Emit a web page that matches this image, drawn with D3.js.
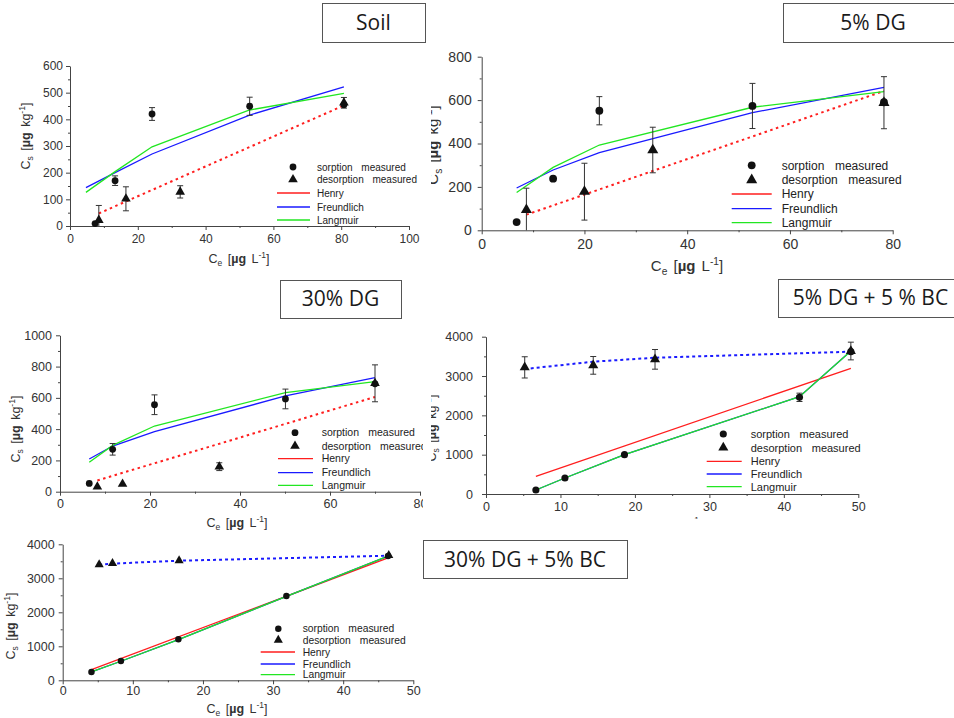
<!DOCTYPE html>
<html>
<head>
<meta charset="utf-8">
<script src="https://cdn.jsdelivr.net/npm/d3@7"></script>
<style>
  html, body { margin: 0; padding: 0; background: #fff; }
  svg { display: block; font-family: "Liberation Sans", Arial, sans-serif; }
  text { white-space: pre; }
</style>
</head>
<body>
<svg id="fig" width="954" height="718"></svg>
<script>
// ---------- Soil ----------
const soilSorpCe = [7.4, 13.3, 24.2, 53.0, 80.8];
const soilSorpCs = [9, 170, 420, 449, 455];
const soilSorpSd = [0, 18, 24, 34, 0];
const soilDesCe = [8.5, 16.5, 32.5, 80.8];
const soilDesCs = [22, 102, 128, 462];
const soilDesSd = [55, 45, 23, 20];
const soilFitCe = [4.7, 13.3, 24.2, 53.0, 80.8];
const soilFreundlich = [144, 200, 270, 416, 522];
const soilLangmuir = [126, 204, 297, 435, 497];
const soilHenryCe = [8.5, 80.8];
const soilHenry = [47, 452];
const soilXTicks = [0, 20, 40, 60, 80, 100];
const soilXMinor = [10, 30, 50, 70, 90];
const soilYTicks = [0, 100, 200, 300, 400, 500, 600];
const soilYMinor = [50, 150, 250, 350, 450, 550];

// ---------- 5% DG ----------
const dg5SorpCe = [6.8, 13.9, 22.9, 52.7, 78.3];
const dg5SorpCs = [38, 238, 551, 573, 590];
const dg5SorpSd = [0, 0, 65, 104, 0];
const dg5DesCe = [8.7, 20.0, 33.3, 78.3];
const dg5DesCs = [94, 178, 370, 588];
const dg5DesSd = [100, 131, 105, 120];
const dg5FitCe = [6.8, 13.9, 22.9, 52.7, 78.3];
const dg5Freundlich = [195, 278, 358, 542, 659];
const dg5Langmuir = [174, 290, 393, 567, 639];
const dg5HenryCe = [8.7, 78.3];
const dg5Henry = [72, 642];
const dg5XTicks = [0, 20, 40, 60, 80];
const dg5XMinor = [10, 30, 50, 70];
const dg5YTicks = [0, 200, 400, 600, 800];
const dg5YMinor = [100, 300, 500, 700];

// ---------- 30% DG ----------
const dg30SorpCe = [6.5, 11.7, 21.0, 50.1, 70.0];
const dg30SorpCs = [53, 271, 556, 593, 690];
const dg30SorpSd = [0, 37, 63, 63, 0];
const dg30DesCe = [8.3, 13.9, 35.4, 70.0];
const dg30DesCs = [32, 49, 160, 693];
const dg30DesSd = [0, 0, 25, 118];
const dg30FitCe = [6.5, 11.7, 21.0, 50.1, 70.0];
const dg30Freundlich = [209, 292, 384, 612, 729];
const dg30Langmuir = [188, 296, 420, 633, 704];
const dg30HenryCe = [8.3, 70.0];
const dg30Henry = [72, 606];
const dg30XTicks = [0, 20, 40, 60, 80];
const dg30XMinor = [10, 30, 50, 70];
const dg30YTicks = [0, 200, 400, 600, 800, 1000];
const dg30YMinor = [100, 300, 500, 700, 900];

// ---------- 5% DG + 5 % BC ----------
const dg5bcSorpCe = [6.7, 10.6, 18.6, 42.1, 49.0];
const dg5bcSorpCs = [102, 407, 1000, 2458, 3619];
const dg5bcSorpSd = [0, 0, 0, 106, 0];
const dg5bcDesCe = [5.2, 14.4, 22.7, 49.0];
const dg5bcDesCs = [3220, 3271, 3424, 3636];
const dg5bcDesSd = [270, 225, 250, 225];
const dg5bcDesFit = [3178, 3364, 3466, 3619];
const dg5bcFitCe = [6.7, 10.6, 18.6, 42.1, 49.0];
const dg5bcFreundlich = [102, 407, 1000, 2475, 3636];
const dg5bcLangmuir = [102, 407, 1000, 2475, 3636];
const dg5bcHenryCe = [6.7, 49.0];
const dg5bcHenry = [450, 3195];
const bcXTicks = [0, 10, 20, 30, 40, 50];
const bcXMinor = [5, 15, 25, 35, 45];
const bcYTicks = [0, 1000, 2000, 3000, 4000];
const bcYMinor = [500, 1500, 2500, 3500];

// ---------- 30% DG + 5% BC ----------
const dg30bcSorpCe = [4.1, 8.3, 16.5, 31.9, 46.4];
const dg30bcSorpCs = [245, 569, 1206, 2480, 3657];
const dg30bcSorpSd = [0, 0, 0, 0, 0];
const dg30bcDesCe = [5.2, 7.1, 16.6, 46.5];
const dg30bcDesCs = [3402, 3441, 3520, 3676];
const dg30bcDesSd = [0, 0, 0, 0];
const dg30bcDesFit = [3400, 3432, 3518, 3665];
const dg30bcFitCe = [4.1, 8.3, 16.5, 31.9, 46.4];
const dg30bcFreundlich = [245, 560, 1195, 2470, 3655];
const dg30bcLangmuir = [245, 560, 1195, 2470, 3655];
const dg30bcHenryCe = [4.1, 46.4];
const dg30bcHenry = [314, 3598];

const legendLabels = ["sorption measured", "desorption measured", "Henry", "Freundlich", "Langmuir"];
const panelTitles = ["Soil", "5% DG", "30% DG", "5% DG + 5 % BC", "30% DG + 5% BC"];

const RED = "#ff1e1e", BLUE = "#1a1aff", GREEN = "#22e622", AXIS = "#444", INK = "#111";

const zip = (xs, ys, es) => xs.map((v, i) => ({ x: v, y: ys[i], e: es ? es[i] : 0 }));

const panels = [
  { key: "soil", xMax: 100, yMax: 600, box: [70, 409, 66, 226],
    xTicks: soilXTicks, xMinor: soilXMinor, yTicks: soilYTicks, yMinor: soilYMinor,
    sorp: zip(soilSorpCe, soilSorpCs, soilSorpSd), des: zip(soilDesCe, soilDesCs, soilDesSd),
    henry: zip(soilHenryCe, soilHenry), henryDotted: true,
    freundlich: zip(soilFitCe, soilFreundlich), langmuir: zip(soilFitCe, soilLangmuir),
    desFit: null,
    fs: { tick: 12, legend: 10, title: 12.5 }, tickGap: { x: 4, y: 3 },
    legend: { mx: 293, tx: 317, lx: [277, 310], rows: [167, 179.5, 193, 207, 220] },
    yTitle: [30, 136], xTitle: [239, 263], ms: 1 },
  { key: "dg5", xMax: 80, yMax: 800, box: [481.7, 892.7, 56.7, 230.3],
    xTicks: dg5XTicks, xMinor: dg5XMinor, yTicks: dg5YTicks, yMinor: dg5YMinor,
    sorp: zip(dg5SorpCe, dg5SorpCs, dg5SorpSd), des: zip(dg5DesCe, dg5DesCs, dg5DesSd),
    henry: zip(dg5HenryCe, dg5Henry), henryDotted: true,
    freundlich: zip(dg5FitCe, dg5Freundlich), langmuir: zip(dg5FitCe, dg5Langmuir),
    desFit: null,
    fs: { tick: 14, legend: 12, title: 15 }, tickGap: { x: 5, y: 6 },
    legend: { mx: 751.7, tx: 781.7, lx: [731.7, 771.7], rows: [165.3, 180, 194, 208.7, 222.7] },
    yTitle: [438, 145], xTitle: [687, 271], clipX0: 431, ms: 1.15 },
  { key: "dg30", xMax: 80, yMax: 1000, box: [60, 420, 335.3, 491.7],
    xTicks: dg30XTicks, xMinor: dg30XMinor, yTicks: dg30YTicks, yMinor: dg30YMinor,
    sorp: zip(dg30SorpCe, dg30SorpCs, dg30SorpSd), des: zip(dg30DesCe, dg30DesCs, dg30DesSd),
    henry: zip(dg30HenryCe, dg30Henry), henryDotted: true,
    freundlich: zip(dg30FitCe, dg30Freundlich), langmuir: zip(dg30FitCe, dg30Langmuir),
    desFit: null,
    fs: { tick: 12.5, legend: 10.5, title: 12.5 }, tickGap: { x: 3, y: 4 },
    legend: { mx: 295, tx: 321.7, lx: [278, 313], rows: [432.7, 446, 458.7, 472.7, 485.3] },
    yTitle: [20, 429], xTitle: [237, 527], clipX1: 423, ms: 1 },
  { key: "dg5bc", xMax: 50, yMax: 4000, box: [486, 858.3, 336.7, 494],
    xTicks: bcXTicks, xMinor: bcXMinor, yTicks: bcYTicks, yMinor: bcYMinor,
    sorp: zip(dg5bcSorpCe, dg5bcSorpCs, dg5bcSorpSd), des: zip(dg5bcDesCe, dg5bcDesCs, dg5bcDesSd),
    henry: zip(dg5bcHenryCe, dg5bcHenry), henryDotted: false,
    freundlich: zip(dg5bcFitCe, dg5bcFreundlich), langmuir: zip(dg5bcFitCe, dg5bcLangmuir),
    desFit: zip(dg5bcDesCe, dg5bcDesFit),
    fs: { tick: 12.5, legend: 11, title: 12.5 }, tickGap: { x: 4, y: 9 },
    legend: { mx: 723.3, tx: 750.7, lx: [706.7, 741.7], rows: [434, 447.7, 461.3, 474, 486.7] },
    yTitle: [436, 428], xTitle: [672, 528], clipX0: 431, clipY1: 519, ms: 1.05 },
  { key: "dg30bc", xMax: 50, yMax: 4000, box: [62.7, 413.3, 544.3, 680.3],
    xTicks: bcXTicks, xMinor: bcXMinor, yTicks: bcYTicks, yMinor: bcYMinor,
    sorp: zip(dg30bcSorpCe, dg30bcSorpCs, dg30bcSorpSd), des: zip(dg30bcDesCe, dg30bcDesCs, dg30bcDesSd),
    henry: zip(dg30bcHenryCe, dg30bcHenry), henryDotted: false,
    freundlich: zip(dg30bcFitCe, dg30bcFreundlich), langmuir: zip(dg30bcFitCe, dg30bcLangmuir),
    desFit: zip(dg30bcDesCe, dg30bcDesFit),
    fs: { tick: 12.5, legend: 10.3, title: 12.5 }, tickGap: { x: 2, y: 4 },
    legend: { mx: 278.3, tx: 302.7, lx: [260.7, 295], rows: [628.7, 640, 652, 664, 674.7] },
    yTitle: [15, 626], xTitle: [237, 713], ms: 0.95 }
];

// title boxes: [x, y, w, h, text baseline y]
const titleBoxes = [
  [322, 3, 103, 39, 30],
  [783, 3, 180, 39, 30],
  [280, 280, 121, 38, 306],
  [778, 279, 185, 38, 305],
  [423, 540, 204, 38, 567]
];

const svg = d3.select("#fig");
const defs = svg.append("defs");

function axisTitle(g, fs, sub, unit) {
  const t = g.append("text").attr("font-size", fs).attr("fill", "#333")
    .attr("text-anchor", "middle").attr("word-spacing", 2);
  t.append("tspan").text("C");
  t.append("tspan").attr("font-size", fs * 0.68).attr("dy", fs * 0.25).text(sub);
  t.append("tspan").attr("dy", -fs * 0.25).text(" [");
  t.append("tspan").attr("font-weight", "bold").text("\u00b5g");
  t.append("tspan").text(" " + unit);
  t.append("tspan").attr("font-size", fs * 0.68).attr("dy", -fs * 0.42).text("-1");
  t.append("tspan").attr("dy", fs * 0.42).text("]");
  return t;
}

panels.forEach((p) => {
  const [L, R, T, B] = p.box;
  const x = d3.scaleLinear().domain([0, p.xMax]).range([L, R]);
  const y = d3.scaleLinear().domain([0, p.yMax]).range([B, T]);

  const cid = "clip-" + p.key;
  defs.append("clipPath").attr("id", cid).append("rect")
    .attr("x", p.clipX0 ?? 0).attr("y", 0)
    .attr("width", (p.clipX1 ?? 954) - (p.clipX0 ?? 0))
    .attr("height", p.clipY1 ?? 718);
  const g = svg.append("g").attr("clip-path", `url(#${cid})`);

  // axes with major and minor ticks
  const xAxis = g.append("g").attr("transform", `translate(0,${B})`)
    .call(d3.axisBottom(x).tickValues(p.xTicks).tickSize(4).tickSizeOuter(0)
      .tickPadding(p.tickGap.x).tickFormat(d3.format("d")));
  const xMin = g.append("g").attr("transform", `translate(0,${B})`)
    .call(d3.axisBottom(x).tickValues(p.xMinor).tickSize(2).tickFormat(""));
  const yAxis = g.append("g").attr("transform", `translate(${L},0)`)
    .call(d3.axisLeft(y).tickValues(p.yTicks).tickSize(4).tickSizeOuter(0)
      .tickPadding(p.tickGap.y).tickFormat(d3.format("d")));
  const yMin = g.append("g").attr("transform", `translate(${L},0)`)
    .call(d3.axisLeft(y).tickValues(p.yMinor).tickSize(2).tickFormat(""));
  xMin.select(".domain").remove();
  yMin.select(".domain").remove();
  [xAxis, xMin, yAxis, yMin].forEach(a => {
    a.selectAll("path,line").attr("stroke", AXIS).attr("stroke-width", 1);
    a.selectAll("text").attr("fill", "#333").attr("font-size", p.fs.tick)
      .attr("font-family", "\"Liberation Sans\", Arial, sans-serif");
  });

  // axis titles
  axisTitle(g, p.fs.title, "s", "kg")
    .attr("transform", `translate(${p.yTitle[0]},${p.yTitle[1]}) rotate(-90)`);
  axisTitle(g, p.fs.title, "e", "L")
    .attr("x", p.xTitle[0]).attr("y", p.xTitle[1]);

  const line = d3.line().x(d => x(d.x)).y(d => y(d.y));

  // fitted isotherms
  g.append("path").datum(p.henry).attr("d", line).attr("fill", "none")
    .attr("stroke", RED).attr("stroke-width", p.henryDotted ? 2 : 1.3)
    .attr("stroke-dasharray", p.henryDotted ? "2.5,3.5" : null);
  g.append("path").datum(p.freundlich).attr("d", line).attr("fill", "none")
    .attr("stroke", BLUE).attr("stroke-width", 1.3);
  g.append("path").datum(p.langmuir).attr("d", line).attr("fill", "none")
    .attr("stroke", GREEN).attr("stroke-width", 1.3);
  if (p.desFit) {
    g.append("path").datum(p.desFit).attr("d", line).attr("fill", "none")
      .attr("stroke", BLUE).attr("stroke-width", 2).attr("stroke-dasharray", "3,3");
  }

  // error bars
  const bars = p.sorp.concat(p.des).filter(d => d.e > 0);
  const eb = g.append("g").attr("stroke", "#333").attr("stroke-width", 1);
  bars.forEach(d => {
    const lo = Math.max(0, d.y - d.e), hi = d.y + d.e;
    eb.append("line").attr("x1", x(d.x)).attr("x2", x(d.x)).attr("y1", y(lo)).attr("y2", y(hi));
    eb.append("line").attr("x1", x(d.x) - 3).attr("x2", x(d.x) + 3).attr("y1", y(hi)).attr("y2", y(hi));
    if (d.y - d.e > 0)
      eb.append("line").attr("x1", x(d.x) - 3).attr("x2", x(d.x) + 3).attr("y1", y(lo)).attr("y2", y(lo));
  });

  // measured points
  const circR = 3.4 * p.ms;
  const tri = d3.symbol().type(d3.symbolTriangle).size(40 * p.ms * p.ms);
  g.append("g").selectAll("circle").data(p.sorp).join("circle")
    .attr("cx", d => x(d.x)).attr("cy", d => y(d.y)).attr("r", circR).attr("fill", INK);
  g.append("g").selectAll("path").data(p.des).join("path")
    .attr("d", tri).attr("transform", d => `translate(${x(d.x)},${y(d.y)})`).attr("fill", INK);

  // legend
  const lg = g.append("g").attr("font-size", p.fs.legend).attr("fill", "#222");
  const lgd = p.legend;
  lg.append("circle").attr("cx", lgd.mx).attr("cy", lgd.rows[0]).attr("r", circR).attr("fill", INK);
  lg.append("path").attr("d", tri).attr("transform", `translate(${lgd.mx},${lgd.rows[1]})`).attr("fill", INK);
  [RED, BLUE, GREEN].forEach((c, i) => {
    lg.append("line").attr("x1", lgd.lx[0]).attr("x2", lgd.lx[1])
      .attr("y1", lgd.rows[i + 2]).attr("y2", lgd.rows[i + 2])
      .attr("stroke", c).attr("stroke-width", 1.3);
  });
  legendLabels.forEach((s, i) => {
    lg.append("text").attr("x", lgd.tx).attr("y", lgd.rows[i]).attr("dy", "0.35em")
      .attr("word-spacing", i < 2 ? p.fs.legend * 0.6 : 0).text(s);
  });
});

// panel title boxes
const tb = svg.append("g");
titleBoxes.forEach((b, i) => {
  tb.append("rect").attr("x", b[0] + 0.5).attr("y", b[1] + 0.5).attr("width", b[2]).attr("height", b[3])
    .attr("fill", "#fff").attr("stroke", "#555").attr("stroke-width", 1);
  tb.append("text").attr("x", b[0] + b[2] / 2).attr("y", b[4]).attr("text-anchor", "middle")
    .attr("font-family", "\"Open Sans\", \"Noto Sans\", sans-serif").attr("font-size", 21)
    .attr("fill", "#1a1a1a").text(panelTitles[i]);
});
</script>
</body>
</html>
